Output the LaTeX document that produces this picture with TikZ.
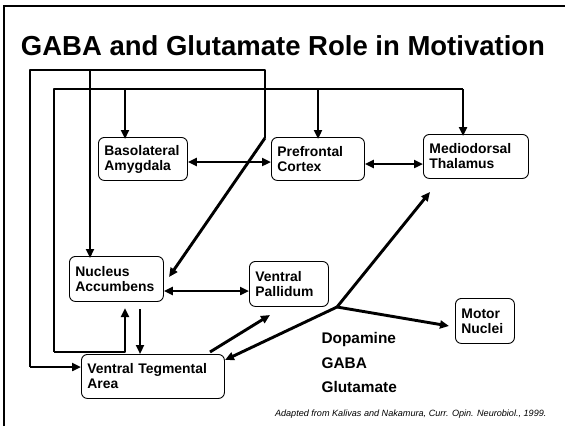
\documentclass[tikz,border=0pt]{standalone}
\usepackage{fontspec}
\setmainfont{Liberation Sans}
\usetikzlibrary{arrows.meta}
\begin{document}
\begin{tikzpicture}[x=1pt,y=-1pt,
  wire/.style={line width=2.9pt, line join=round},
  tip/.style={-{Triangle[length=9pt,width=8pt]}},
  dtip/.style={{Triangle[length=9pt,width=8pt]}-{Triangle[length=9pt,width=8pt]}},
  box/.style={draw, line width=0.9pt, rounded corners=6pt, inner xsep=6pt, inner ysep=0pt,
    align=left, anchor=north west, font=\bfseries\fontsize{13.9}{15}\selectfont},
  leg/.style={anchor=base west, font=\bfseries\fontsize{15.4}{17}\selectfont}]
\useasboundingbox (0,0) rectangle (565,426);
% frame
\draw[line width=2pt] (4,426) -- (4,6) -- (565,6);
% title
\node[anchor=base, font=\bfseries\fontsize{27.5}{30}\selectfont] (title) at (283,55) {GABA and Glutamate Role in Motivation};
% boxes
\node[box, text width=77pt, minimum height=43pt] (bla) at (98,137) {Basolateral\\Amygdala};
\node[box, text width=81pt, minimum height=43pt] (pfc) at (271,137) {Prefrontal\\Cortex};
\node[box, text width=93pt, minimum height=44pt] (mdt) at (423,134) {Mediodorsal\\Thalamus};
\node[box, text width=82pt, minimum height=45pt] (nac) at (69,256) {Nucleus\\Accumbens};
\node[box, text width=67pt, minimum height=45pt] (vp) at (249,261) {Ventral\\Pallidum};
\node[box, text width=131pt, minimum height=44pt] (vta) at (81,354) {Ventral Tegmental\\Area};
\node[box, text width=47pt, minimum height=45pt] (mot) at (455,298) {Motor\\Nuclei};
% coordinates
\coordinate (c1) at (265,138);
\coordinate (c2) at (265,70);
\coordinate (c3) at (30,70);
\coordinate (c4) at (30,367);
\coordinate (c5) at (90,70);
\coordinate (nacA) at (169,277);
\coordinate (d1) at (54,89);
\coordinate (d2) at (463,89);
\coordinate (d3) at (54,352);
\coordinate (d4) at (125,352);
\coordinate (d5) at (125,89);
\coordinate (d6) at (318,89);
\coordinate (nacB) at (125,308);
\coordinate (nacC) at (140,309);
\coordinate (yb) at (0,162);
\coordinate (yp) at (0,164);
\coordinate (yn) at (0,291);
\coordinate (vtaA) at (210,352);
\coordinate (vpA) at (270,315);
\coordinate (br) at (337,307);
\coordinate (vtaB) at (225,360);
\coordinate (mdtA) at (430,192);
\coordinate (motA) at (449,326);
% loop 1
\draw[wire] (c1) -- (c2) -- (c3) -- (c4);
\draw[wire,tip] (c4) -- (vta.west |- c4);
\draw[wire,tip] (c1) -- (nacA);
\draw[wire,tip] (c5) -- ([yshift=-2pt]c5 |- nac.north);
% loop 2
\draw[wire] (d3) -- (d1) -- (d2);
\draw[wire,tip] (d2) -- ([yshift=-2pt]d2 |- mdt.north);
\draw[wire,tip] (d5) -- ([yshift=-2pt]d5 |- bla.north);
\draw[wire,tip] (d6) -- ([yshift=-2pt]d6 |- pfc.north);
\draw[wire,tip] (d3) -- (d4) -- (nacB);
% horizontal links
\draw[wire,dtip] (bla.east |- yb) -- (pfc.west |- yb);
\draw[wire,dtip] (pfc.east |- yp) -- (mdt.west |- yp);
\draw[wire,dtip] (nac.east |- yn) -- (vp.west |- yn);
% NAc -> VTA
\draw[wire,tip] (nacC) -- (nacC |- vta.north);
% VTA -> VP
\draw[wire,tip] (vtaA) -- (vpA);
% branch
\draw[wire,tip] (br) -- (vtaB);
\draw[wire,tip] (br) -- (mdtA);
\draw[wire,tip] (br) -- (motA);
% legend
\node[leg] (dop) at (318,343) {Dopamine};
\node[leg] (gaba) at (318,368) {GABA};
\node[leg] (glu) at (318,392) {Glutamate};
% citation
\node[anchor=base east, font=\itshape\fontsize{9.1}{11}\selectfont] (cite) at (550,416) {Adapted from Kalivas and Nakamura, Curr. Opin. Neurobiol., 1999.};
\end{tikzpicture}
\end{document}
